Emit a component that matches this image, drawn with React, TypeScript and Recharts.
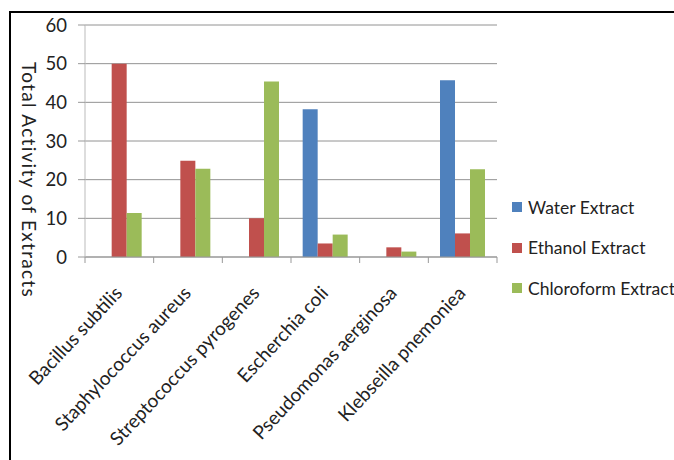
import { Bar, BarChart, CartesianGrid, Legend, XAxis, YAxis } from "recharts"

const bacteria = [
  "Bacillus subtilis",
  "Staphylococcus aureus",
  "Streptococcus pyrogenes",
  "Escherchia coli",
  "Pseudomonas aerginosa",
  "Klebseilla pnemoniea",
]
const waterExtract = [0, 0, 0, 38.2, 0, 45.7]
const ethanolExtract = [50, 24.9, 10, 3.5, 2.5, 6.1]
const chloroformExtract = [11.4, 22.8, 45.4, 5.8, 1.4, 22.7]
const yTicks = [0, 10, 20, 30, 40, 50, 60]

const series = [
  { key: "water", name: "Water Extract", color: "#4F81BD" },
  { key: "ethanol", name: "Ethanol Extract", color: "#C0504D" },
  { key: "chloroform", name: "Chloroform Extract", color: "#9BBB59" },
]

const data = bacteria.map((name, i) => ({
  name,
  water: waterExtract[i],
  ethanol: ethanolExtract[i],
  chloroform: chloroformExtract[i],
}))

const font = "Lato, 'Open Sans', sans-serif"

function CategoryTick(props: any) {
  const { x, y, payload, index, visibleTicksCount } = props
  const half = payload?.offset || 34
  const lx = x + 4
  const ly = y + 37
  return (
    <g>
      <line x1={x - half} x2={x - half} y1={y} y2={y + 6} stroke="#999" />
      {index === visibleTicksCount - 1 && (
        <line x1={x + half} x2={x + half} y1={y} y2={y + 6} stroke="#999" />
      )}
      <text
        x={lx}
        y={ly}
        textAnchor="end"
        transform={`rotate(-47, ${lx}, ${ly})`}
        fontSize={19}
        fontFamily={font}
        fill="#222"
      >
        {payload.value}
      </text>
    </g>
  )
}

function LegendBox() {
  return (
    <div style={{ fontFamily: font, fontSize: 17.5, color: "#222" }}>
      {series.map((s) => (
        <div key={s.key} style={{ display: "flex", alignItems: "center", height: 40.5, whiteSpace: "nowrap" }}>
          <span style={{ width: 10, height: 10, background: s.color, marginRight: 6, display: "inline-block" }} />
          {s.name}
        </div>
      ))}
    </div>
  )
}

export default function App() {
  return (
    <div style={{ position: "fixed", left: 0, top: 0, width: 674, height: 460, overflow: "hidden", background: "#fff" }}>
      <div
        style={{
          position: "absolute",
          left: 9,
          top: 11,
          width: 700,
          height: 500,
          border: "2px solid #000",
        }}
      />
      <div style={{ position: "absolute", left: 0, top: 0 }}>
        <BarChart
          width={674}
          height={460}
          data={data}
          margin={{ top: 25, right: 177, left: 0, bottom: 0 }}
          barCategoryGap="17%"
          barGap={0}
        >
          <CartesianGrid vertical={false} stroke="#929292" />
          <XAxis
            dataKey="name"
            interval={0}
            height={203}
            tickLine={false}
            tickSize={0}
            tickMargin={0}
            axisLine={{ stroke: "#999" }}
            tick={<CategoryTick />}
          />
          <YAxis
            width={85}
            domain={[0, 60]}
            ticks={yTicks}
            tickSize={7}
            tickMargin={11}
            tickLine={{ stroke: "#999" }}
            axisLine={{ stroke: "#bbb" }}
            tick={{ fontSize: 18.5, fontFamily: font, fill: "#222" }}
            label={(p: any) => (
              <text
                x={29}
                y={180}
                transform="rotate(90, 29, 180)"
                textAnchor="middle"
                dominantBaseline="central"
                fontSize={19}
                letterSpacing={1.3}
                fontFamily={font}
                fill="#222"
              >
                Total Activity of Extracts
              </text>
            )}
          />
          <Legend
            layout="vertical"
            align="center"
            verticalAlign="middle"
            content={<LegendBox />}
            wrapperStyle={{ position: "absolute", left: 512, top: 187, width: 170 }}
          />
          {series.map((s) => (
            <Bar key={s.key} dataKey={s.key} name={s.name} fill={s.color} isAnimationActive={false} />
          ))}
        </BarChart>
      </div>
    </div>
  )
}
